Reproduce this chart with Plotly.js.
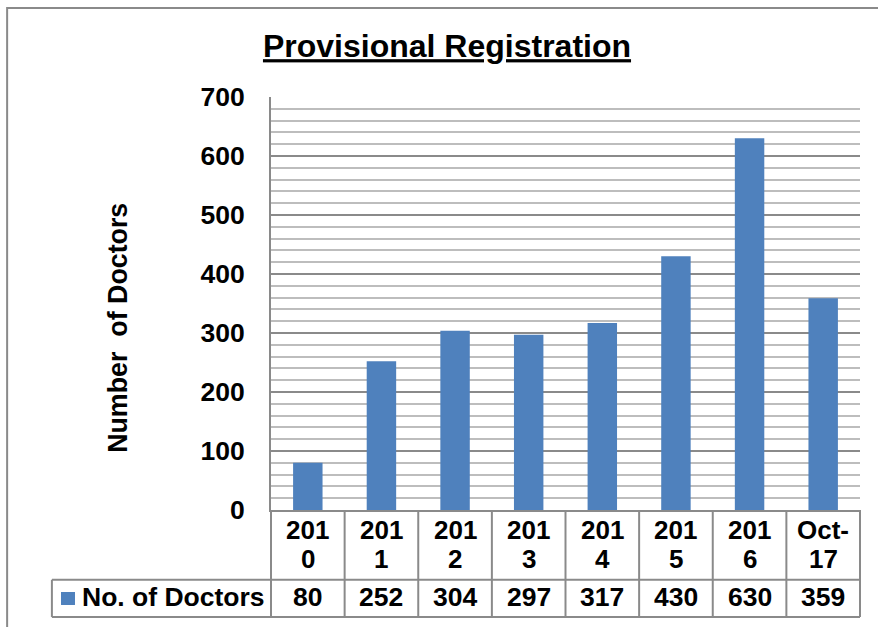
<!DOCTYPE html>
<html>
<head>
<meta charset="utf-8">
<script src="https://cdn.plot.ly/plotly-3.0.1.min.js"></script>
<style>html,body{margin:0;padding:0;background:#fff;}#chart{width:878px;height:627px;}</style>
</head>
<body>
<div id="chart"></div>
<script>
// ---- data ----
const categories = ["2010", "2011", "2012", "2013", "2014", "2015", "2016", "Oct-17"];
const headerTop = ["201", "201", "201", "201", "201", "201", "201", "Oct-"];
const headerBottom = ["0", "1", "2", "3", "4", "5", "6", "17"];
const doctors = [80, 252, 304, 297, 317, 430, 630, 359];
const seriesName = "No. of Doctors";
const chartTitle = "Provisional Registration";
const yTitle = "Number\u00a0 of Doctors";
const yTicks = [0, 100, 200, 300, 400, 500, 600, 700];

// ---- style ----
const FONT = "Liberation Sans, Arial, sans-serif";
const GRID = "#8a8a8a";
const MINOR = "#bdbdbd";
const LINE = "#8a8a8a";
const BAR = "#4F81BD";

// table row positions (paper coords relative to plot area)
const rowHeadTop = -0.0475, rowHeadBot = -0.1195, rowVal = -0.2107;
const rowSplit = -0.169, rowEnd = -0.259, tableLeft = -0.372;

const shapes = [];
// outer chart frame
shapes.push({type: "rect", xref: "paper", yref: "paper", x0: -0.448, x1: 1.04, y0: -0.33, y1: 1.2155,
  line: {color: LINE, width: 2}, fillcolor: "rgba(0,0,0,0)", layer: "below"});
// table horizontal lines
shapes.push({type: "line", xref: "paper", yref: "paper", x0: tableLeft, x1: 1, y0: rowSplit, y1: rowSplit, line: {color: LINE, width: 2}});
shapes.push({type: "line", xref: "paper", yref: "paper", x0: tableLeft, x1: 1, y0: rowEnd, y1: rowEnd, line: {color: LINE, width: 2}});
// table outer verticals
shapes.push({type: "line", xref: "paper", yref: "paper", x0: 0, x1: 0, y0: 0, y1: rowEnd, line: {color: LINE, width: 2}});
shapes.push({type: "line", xref: "paper", yref: "paper", x0: 1, x1: 1, y0: 0, y1: rowEnd, line: {color: LINE, width: 2}});
shapes.push({type: "line", xref: "paper", yref: "paper", x0: tableLeft, x1: tableLeft, y0: rowSplit, y1: rowEnd, line: {color: LINE, width: 2}});
// interior verticals between categories
for (let i = 0; i < categories.length - 1; i++) {
  shapes.push({type: "line", xref: "x", yref: "paper", x0: i + 0.5, x1: i + 0.5, y0: 0, y1: rowEnd, line: {color: LINE, width: 2}});
}
// legend swatch
shapes.push({type: "rect", xref: "paper", yref: "paper", x0: -0.3565, x1: -0.3328, y0: -0.1985, y1: -0.230,
  line: {width: 0}, fillcolor: BAR});

const tf = {family: FONT, size: 26.5, color: "#000", weight: "bold"};
const hf = {family: FONT, size: 26, color: "#000", weight: "bold"};
const annBase = {showarrow: false, borderpad: 0, borderwidth: 0, xanchor: "center", yanchor: "middle"};
const annotations = [];
categories.forEach((c, i) => {
  annotations.push(Object.assign({}, annBase, {xref: "x", yref: "paper", x: i, y: rowHeadTop, text: headerTop[i], font: hf}));
  annotations.push(Object.assign({}, annBase, {xref: "x", yref: "paper", x: i, y: rowHeadBot, text: headerBottom[i], font: hf}));
  annotations.push(Object.assign({}, annBase, {xref: "x", yref: "paper", x: i, y: rowVal, text: String(doctors[i]), font: tf}));
});
annotations.push(Object.assign({}, annBase, {xref: "paper", yref: "paper", x: -0.3209, y: rowVal, text: seriesName, font: tf, xanchor: "left"}));
annotations.push(Object.assign({}, annBase, {xref: "paper", yref: "paper", x: -0.26, y: 0.4407, text: yTitle, textangle: -90,
  font: {family: FONT, size: 26.8, color: "#000", weight: "bold"}}));

const trace = {
  type: "bar",
  x: categories.map((c, i) => i),
  y: doctors,
  name: seriesName,
  marker: {color: BAR},
  hoverinfo: "none"
};

const layout = {
  width: 878, height: 627,
  margin: {l: 271, r: 18, t: 97, b: 117, pad: 0},
  paper_bgcolor: "#fff", plot_bgcolor: "#fff",
  showlegend: false,
  bargap: 0.6,
  title: {text: "<u>" + chartTitle + "</u>", font: {family: FONT, size: 32, color: "#000", weight: "bold"},
    x: 447 / 878, xanchor: "center", y: 1 - 46 / 627, yanchor: "middle", xref: "container", yref: "container"},
  xaxis: {range: [-0.5, categories.length - 0.5], showticklabels: false, ticks: "", showgrid: false, zeroline: false,
    showline: true, linecolor: LINE, linewidth: 2, fixedrange: true},
  yaxis: {range: [0, 700], tickvals: yTicks, ticktext: yTicks.map(String), ticks: "", ticklabelstandoff: 19,
    tickfont: tf, showgrid: true, gridcolor: GRID, gridwidth: 2, zeroline: false,
    minor: {dtick: 20, showgrid: true, gridcolor: MINOR, gridwidth: 2, ticks: ""},
    showline: true, linecolor: LINE, linewidth: 2, fixedrange: true},
  shapes: shapes,
  annotations: annotations
};

Plotly.newPlot("chart", [trace], layout, {staticPlot: true, displayModeBar: false});
</script>
</body>
</html>
